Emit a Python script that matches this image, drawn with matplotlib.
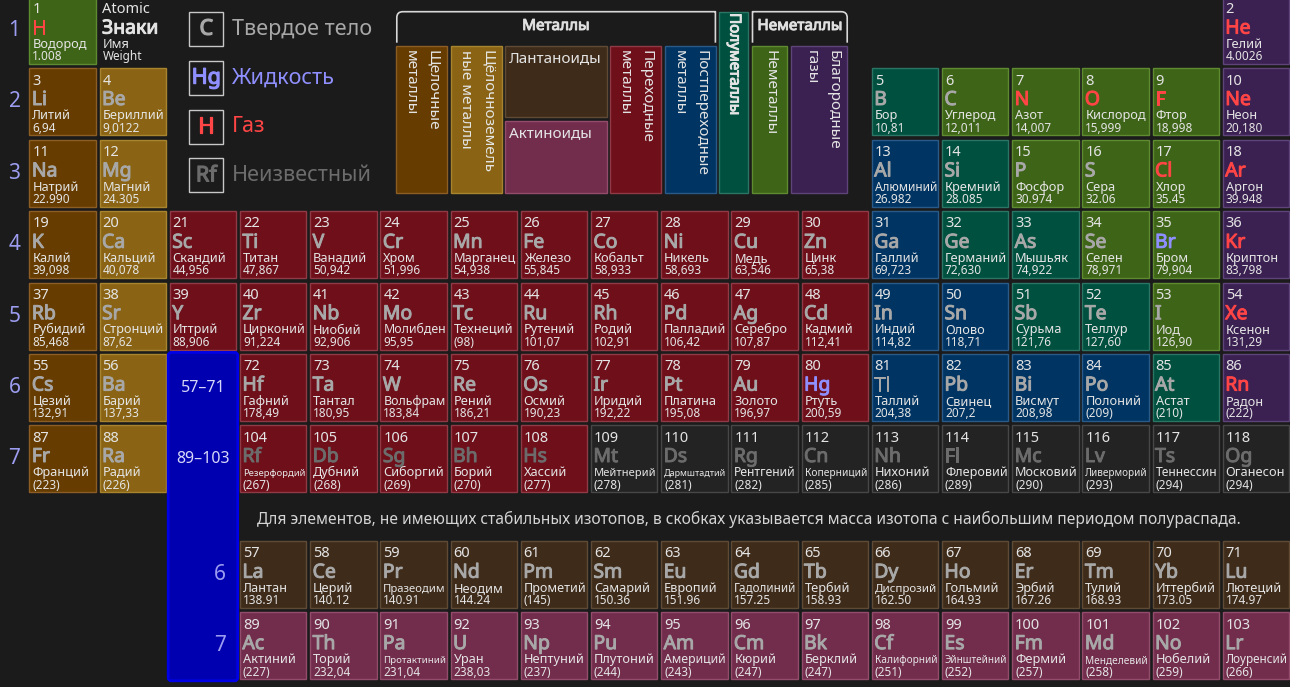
import matplotlib.pyplot as plt
from matplotlib.patches import Rectangle, FancyBboxPatch, PathPatch
from matplotlib.path import Path
import matplotlib.patheffects as pe

plt.rcParams['font.family'] = ['Noto Sans', 'DejaVu Sans']

# ---- data ----
symbols = ["H", "He", "Li", "Be", "B", "C", "N", "O", "F", "Ne",
           "Na", "Mg", "Al", "Si", "P", "S", "Cl", "Ar", "K", "Ca",
           "Sc", "Ti", "V", "Cr", "Mn", "Fe", "Co", "Ni", "Cu", "Zn",
           "Ga", "Ge", "As", "Se", "Br", "Kr", "Rb", "Sr", "Y", "Zr",
           "Nb", "Mo", "Tc", "Ru", "Rh", "Pd", "Ag", "Cd", "In", "Sn",
           "Sb", "Te", "I", "Xe", "Cs", "Ba", "La", "Ce", "Pr", "Nd",
           "Pm", "Sm", "Eu", "Gd", "Tb", "Dy", "Ho", "Er", "Tm", "Yb",
           "Lu", "Hf", "Ta", "W", "Re", "Os", "Ir", "Pt", "Au", "Hg",
           "Tl", "Pb", "Bi", "Po", "At", "Rn", "Fr", "Ra", "Ac", "Th",
           "Pa", "U", "Np", "Pu", "Am", "Cm", "Bk", "Cf", "Es", "Fm",
           "Md", "No", "Lr", "Rf", "Db", "Sg", "Bh", "Hs", "Mt", "Ds",
           "Rg", "Cn", "Nh", "Fl", "Mc", "Lv", "Ts", "Og"]

names = ["Водород", "Гелий", "Литий", "Бериллий", "Бор", "Углерод", "Азот", "Кислород", "Фтор", "Неон",
         "Натрий", "Магний", "Алюминий", "Кремний", "Фосфор", "Сера", "Хлор", "Аргон", "Калий", "Кальций",
         "Скандий", "Титан", "Ванадий", "Хром", "Марганец", "Железо", "Кобальт", "Никель", "Медь", "Цинк",
         "Галлий", "Германий", "Мышьяк", "Селен", "Бром", "Криптон", "Рубидий", "Стронций", "Иттрий", "Цирконий",
         "Ниобий", "Молибден", "Технеций", "Рутений", "Родий", "Палладий", "Серебро", "Кадмий", "Индий", "Олово",
         "Сурьма", "Теллур", "Иод", "Ксенон", "Цезий", "Барий", "Лантан", "Церий", "Празеодим", "Неодим",
         "Прометий", "Самарий", "Европий", "Гадолиний", "Тербий", "Диспрозий", "Гольмий", "Эрбий", "Тулий", "Иттербий",
         "Лютеций", "Гафний", "Тантал", "Вольфрам", "Рений", "Осмий", "Иридий", "Платина", "Золото", "Ртуть",
         "Таллий", "Свинец", "Висмут", "Полоний", "Астат", "Радон", "Франций", "Радий", "Актиний", "Торий",
         "Протактиний", "Уран", "Нептуний", "Плутоний", "Америций", "Кюрий", "Берклий", "Калифорний", "Эйнштейний", "Фермий",
         "Менделевий", "Нобелий", "Лоуренсий", "Резерфордий", "Дубний", "Сиборгий", "Борий", "Хассий", "Мейтнерий", "Дармштадтий",
         "Рентгений", "Коперниций", "Нихоний", "Флеровий", "Московий", "Ливерморий", "Теннессин", "Оганесон"]

weights = ["1.008", "4.0026", "6,94", "9,0122", "10,81", "12,011", "14,007", "15,999", "18,998", "20,180",
           "22.990", "24.305", "26.982", "28.085", "30.974", "32.06", "35.45", "39.948", "39,098", "40,078",
           "44,956", "47,867", "50,942", "51,996", "54,938", "55,845", "58,933", "58,693", "63,546", "65,38",
           "69,723", "72,630", "74,922", "78,971", "79,904", "83,798", "85,468", "87,62", "88,906", "91,224",
           "92,906", "95,95", "(98)", "101,07", "102,91", "106,42", "107,87", "112,41", "114,82", "118,71",
           "121,76", "127,60", "126,90", "131,29", "132,91", "137,33", "138.91", "140.12", "140.91", "144.24",
           "(145)", "150.36", "151.96", "157.25", "158.93", "162.50", "164.93", "167.26", "168.93", "173.05",
           "174.97", "178,49", "180,95", "183,84", "186,21", "190,23", "192,22", "195,08", "196,97", "200,59",
           "204,38", "207,2", "208,98", "(209)", "(210)", "(222)", "(223)", "(226)", "(227)", "232,04",
           "231,04", "238,03", "(237)", "(244)", "(243)", "(247)", "(247)", "(251)", "(252)", "(257)",
           "(258)", "(259)", "(266)", "(267)", "(268)", "(269)", "(270)", "(277)", "(278)", "(281)",
           "(282)", "(285)", "(286)", "(289)", "(290)", "(293)", "(294)", "(294)"]

alkali = [3, 11, 19, 37, 55, 87]
alkaline_earth = [4, 12, 20, 38, 56, 88]
post_transition = [13, 31, 49, 50, 81, 82, 83, 84]
metalloids = [5, 14, 32, 33, 51, 52, 85]
nonmetals = [1, 6, 7, 8, 9, 15, 16, 17, 34, 35, 53]
noble_gases = [2, 10, 18, 36, 54, 86]
lanthanoids = list(range(57, 72))
actinoids = list(range(89, 104))
unknown_props = list(range(109, 119))

gases = [1, 2, 7, 8, 9, 10, 17, 18, 36, 54, 86]
liquids = [35, 80]
unknown_state = list(range(104, 119))

period_starts = [1, 3, 11, 19, 37, 55, 87]

# ---- style ----
BG = '#1b1b1b'
TXT = '#e4e4e4'
fills = {
    'alkali': ('#663c00', '#8c5d24'),
    'alkaline': ('#8a6414', '#a8842e'),
    'transition': ('#6e0f1a', '#8f3a44'),
    'post': ('#003462', '#2a5a88'),
    'metalloid': ('#00503f', '#2a7564'),
    'nonmetal': ('#3e6418', '#5e8a30'),
    'noble': ('#3b2152', '#5e4478'),
    'lanth': ('#3e2b19', '#5f4a36'),
    'actin': ('#722c4c', '#944c6c'),
    'unknown': ('#232323', '#474747'),
}
state_colors = {'solid': '#a8a8a8', 'gas': '#ff4545', 'liquid': '#8f8fff', 'unknown': '#6c6c6c'}
PERIOD_C = '#9c9cf0'

X0, PX = 29.3, 70.2      # column 1 left, column pitch (px)
Y0, PY = -3.1, 71.4      # row 1 top, row pitch (px)
CW, CH = 66.5, 67.0
F_OFFSET = 115.7         # f-block rows below period 7


def category(z):
    for lst, key in [(alkali, 'alkali'), (alkaline_earth, 'alkaline'), (post_transition, 'post'),
                     (metalloids, 'metalloid'), (nonmetals, 'nonmetal'), (noble_gases, 'noble'),
                     (lanthanoids, 'lanth'), (actinoids, 'actin'), (unknown_props, 'unknown')]:
        if z in lst:
            return key
    return 'transition'


def state(z):
    if z in gases:
        return 'gas'
    if z in liquids:
        return 'liquid'
    if z in unknown_state:
        return 'unknown'
    return 'solid'


def position(z):
    # returns (column, top pixel)
    if z == 1:
        return 1, Y0
    if z == 2:
        return 18, Y0
    p = max(i for i, s in enumerate(period_starts) if z >= s)
    k = z - period_starts[p]
    top = Y0 + p * PY
    if p in (1, 2):
        col = k + 1 if k < 2 else k + 11
    elif p in (3, 4):
        col = k + 1
    else:
        if k < 2:
            col = k + 1
        elif k <= 16:
            col = k + 2
            top = Y0 + 6 * PY + F_OFFSET + (p - 5) * PY
        else:
            col = k - 13
    return col, top


def bold(color, w=0.7):
    return [pe.withStroke(linewidth=w, foreground=color)]


fig = plt.figure(figsize=(12.9, 6.87), dpi=100)
fig.patch.set_facecolor(BG)
ax = fig.add_axes([0, 0, 1, 1])
ax.set_xlim(0, 1290)
ax.set_ylim(687, 0)
ax.axis('off')
renderer = fig.canvas.get_renderer()


def fit_text(x, y, s, size, maxw, **kw):
    t = ax.text(x, y, s, fontsize=size, **kw)
    w = t.get_window_extent(renderer).width
    if w > maxw:
        t.set_fontsize(size * maxw / w)
    return t


def cell_text(x, top, num, sym, name, wt, sym_color, txt_color=TXT):
    ax.text(x + 3, top + 16.3, num, fontsize=10.5, color=txt_color, va='baseline')
    ax.text(x + 2.5, top + 36.7, sym, fontsize=14, color=sym_color, va='baseline',
            path_effects=bold(sym_color, 0.7))
    fit_text(x + 3, top + 51, name, 9.2, CW - 4, color=txt_color, va='baseline')
    fit_text(x + 3, top + 63.3, wt, 8.5, CW - 4, color=txt_color, va='baseline')


# ---- element cells ----
for i, sym in enumerate(symbols):
    z = i + 1
    col, top = position(z)
    x = X0 + (col - 1) * PX
    fc, ec = fills[category(z)]
    ax.add_patch(Rectangle((x, top), CW, CH, facecolor=fc, edgecolor=ec, lw=1))
    cell_text(x, top, str(z), sym, names[i], weights[i], state_colors[state(z)])

# key cell
cell_text(X0 + PX, Y0, 'Atomic', 'Знаки', 'Имя', 'Weight', TXT)

# period labels
for p in range(7):
    ax.text(14.5, Y0 + p * PY + CH / 2, str(p + 1), fontsize=15, color=PERIOD_C, ha='center', va='center')

# lanthanoid / actinoid placeholder block
col3 = X0 + 2 * PX
ax.add_patch(FancyBboxPatch((col3 - 1.5, Y0 + 5 * PY - 1.5), CW + 3, 328.4,
                            boxstyle='round,pad=0,rounding_size=3', facecolor='#0000b0',
                            edgecolor='#0000e6', lw=2))
ax.text(col3 + CW / 2 + 0.5, Y0 + 5 * PY + 34, '57–71', fontsize=11.5, color='#d8d8f8', ha='center', va='center')
ax.text(col3 + CW / 2 + 0.5, Y0 + 6 * PY + 34, '89–103', fontsize=11.5, color='#d8d8f8', ha='center', va='center')
for j, lab in enumerate(['6', '7']):
    ax.text(col3 + CW - 10, Y0 + 6 * PY + F_OFFSET + j * PY + CH / 2, lab, fontsize=15,
            color=PERIOD_C, ha='right', va='center')

ax.text(748.7, 519, 'Для элементов, не имеющих стабильных изотопов, в скобках указывается масса '
        'изотопа с наибольшим периодом полураспада.', fontsize=11.2, color='#d4d4d4',
        ha='center', va='center')

# ---- state legend ----
state_key = [('C', 'Твердое тело', 'solid'), ('Hg', 'Жидкость', 'liquid'),
             ('H', 'Газ', 'gas'), ('Rf', 'Неизвестный', 'unknown')]
for j, (s, lab, st) in enumerate(state_key):
    yb = 11.7 + j * 48.9
    ax.add_patch(Rectangle((189.3, yb), 34, 34, facecolor='none', edgecolor='#c8c8c8', lw=1))
    ax.text(206.3, yb + 17.5, s, fontsize=15.5, color=state_colors[st], ha='center', va='center',
            path_effects=bold(state_colors[st], 0.9))
    ax.text(231.5, yb + 17.5, lab, fontsize=15.5, color=state_colors[st], ha='left', va='center')


# ---- category legend ----
def bracket(x0, x1, yt, yb, rl, rr):
    verts = [(x0, yb), (x0, yt + rl), (x0, yt), (x0 + rl, yt), (x1 - rr, yt), (x1, yt), (x1, yt + rr), (x1, yb)]
    codes = [Path.MOVETO, Path.LINETO, Path.CURVE3, Path.CURVE3, Path.LINETO, Path.CURVE3, Path.CURVE3, Path.LINETO]
    ax.add_patch(PathPatch(Path(verts, codes), facecolor='none', edgecolor='#d8d8d8', lw=1.2))


def vertical_label(xr, ytop, text, effects=None):
    # rotated text reading top to bottom; first line on the right
    for i, line in enumerate(text.split('\n')):
        ax.text(xr - i * 21.5, ytop, line, fontsize=11, color=TXT, rotation=270,
                ha='right', va='top', path_effects=effects)


bracket(396.8, 715.4, 11.7, 42.7, 6, 0.01)
bracket(752.5, 847.2, 11.7, 42.7, 0.01, 6)
ax.text(556, 26.5, 'Металлы', fontsize=11, color='#e0e0e0', ha='center', va='center',
        path_effects=bold('#e0e0e0'))
ax.text(800, 26.5, 'Неметаллы', fontsize=11, color='#e0e0e0', ha='center', va='center',
        path_effects=bold('#e0e0e0'))

TOP, BOT = 46, 192.7
cat_boxes = [
    (396.3, 446.7, 'alkali', 'Щелочные\nметаллы'),
    (451.0, 501.7, 'alkaline', 'Щёлочноземель\nные металлы'),
    (610.0, 660.7, 'transition', 'Переходные\nметаллы'),
    (665.0, 715.7, 'post', 'Постпереходные\nметаллы'),
    (752.3, 786.7, 'nonmetal', 'Неметаллы'),
    (791.0, 847.3, 'noble', 'Благородные\nгазы'),
]
for xa, xb, key, lab in cat_boxes:
    fc, ec = fills[key]
    ax.add_patch(Rectangle((xa, TOP), xb - xa, BOT - TOP, facecolor=fc, edgecolor=ec, lw=1))
    xr = xb - 7 if '\n' in lab else (xa + xb) / 2 + 8
    vertical_label(xr, TOP + 4, lab)

fc, ec = fills['metalloid']
ax.add_patch(Rectangle((719, 11.7), 28.7, BOT - 11.7, facecolor=fc, edgecolor=ec, lw=1))
vertical_label(733.4 + 8, 13, 'Полуметаллы', bold(TXT))

for yt, yb, key, lab in [(46, 117.3, 'lanth', 'Лантаноиды'), (121, 192.7, 'actin', 'Актиноиды')]:
    fc, ec = fills[key]
    ax.add_patch(Rectangle((505, yt), 101.7, yb - yt, facecolor=fc, edgecolor=ec, lw=1))
    ax.text(509, yt + 5, lab, fontsize=11, color=TXT, ha='left', va='top')

fig.savefig('out.png', dpi=100, facecolor=BG)
